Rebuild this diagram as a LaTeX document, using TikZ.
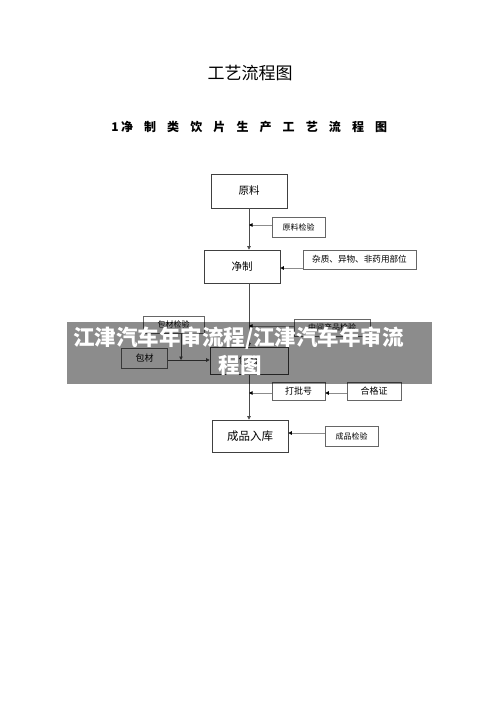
\documentclass[tikz,border=0pt]{standalone}
\usepackage{fontspec}
\newfontfamily\cjk{Noto Sans CJK SC}
\usetikzlibrary{arrows.meta}
\begin{document}
\begin{tikzpicture}[x=1pt,y=-1pt,
  mainbox/.style={draw=black!75,line width=0.7pt,inner sep=0pt,font=\cjk\fontsize{10.5}{12}\selectfont},
  sidebox/.style={draw=black!60,line width=0.6pt,inner sep=0pt,font=\cjk\fontsize{8}{10}\selectfont},
  conn/.style={draw=black!70,line width=0.6pt,-{Triangle[length=3.5pt,width=3.5pt]}},
  feed/.style={draw=black!45,line width=0.8pt,-{Triangle[length=3.5pt,width=3.5pt,black]}}]
\useasboundingbox (0,0) rectangle (500,706);
\fill[white] (0,0) rectangle (500,706);
% titles
\node[font=\cjk\fontsize{17}{20}\selectfont] (title) at (250,73) {工艺流程图};
\node[font=\cjk\bfseries\fontsize{12}{14}\selectfont] (one) at (115,127) {1};
\foreach \c [count=\i from 0] in {净,制,类,饮,片,生,产,工,艺,流,程,图}
  \node[font=\cjk\bfseries\fontsize{12}{14}\selectfont] (s\i) at (127+23.1*\i,127) {\c};
% main boxes
\node[mainbox,minimum width=76pt,minimum height=34pt] (yl) at (249,191) {原料};
\node[mainbox,minimum width=76pt,minimum height=33pt] (jz) at (242,266.5) {净制};
\node[mainbox,minimum width=78pt,minimum height=27pt] (bz) at (249,360.5) {包装};
\node[mainbox,minimum width=76pt,minimum height=32pt,font=\cjk\fontsize{11.5}{13}\selectfont] (cp) at (250,436) {成品入库};
% side boxes
\node[sidebox,minimum width=53pt,minimum height=20pt] (ylj) at (298.5,227) {原料检验};
\node[sidebox,minimum width=113pt,minimum height=19pt,font=\cjk\fontsize{8.6}{10}\selectfont] (zz) at (359.5,259.5) {杂质、异物、非药用部位};
\node[sidebox,minimum width=61pt,minimum height=17pt] (bcj) at (173.5,324.5) {包材检验};
\node[sidebox,minimum width=76pt,minimum height=17pt] (zj) at (332,327.5) {中间产品检验};
\node[sidebox,minimum width=46pt,minimum height=20pt,font=\cjk\fontsize{9}{10}\selectfont] (bc) at (144.5,358) {包材};
\node[sidebox,minimum width=53pt,minimum height=18pt,font=\cjk\fontsize{9}{10}\selectfont] (dp) at (298.5,391) {打批号};
\node[sidebox,minimum width=54pt,minimum height=18pt,font=\cjk\fontsize{9}{10}\selectfont] (hg) at (374,391) {合格证};
\node[sidebox,minimum width=53pt,minimum height=20pt] (cj) at (351.5,436) {成品检验};
% main line
\coordinate (m1) at (249,225);
\coordinate (m2) at (249,326);
\coordinate (m3) at (249,393);
\coordinate (bj) at (181,360);
\draw[conn] (yl.south -| m1) -- (jz.north -| m1);
\draw[conn] (jz.south -| m1) -- (bz.north -| m1);
\draw[conn] (bz.south -| m1) -- (cp.north -| m1);
% feeds
\draw[feed] (ylj.west |- m1) -- (m1);
\draw[feed] (zz.west |- 0,268) -- (jz.east |- 0,268);
\draw[feed] (zj.west |- m2) -- (m2);
\draw[feed] (dp.west |- m3) -- (m3);
\draw[feed] (hg.west |- m3) -- (dp.east |- m3);
\draw[feed] (cj.west |- 0,433) -- (cp.east |- 0,433);
\draw[conn] (bc.east |- bj) -- (bz.west |- bj);
\draw[conn] (bcj.south -| bj) -- (bj);
% watermark banner
\fill[black,opacity=0.45] (67,322) rectangle (432,384);
\node[white,font=\cjk\bfseries\fontsize{21.5}{24}\selectfont] (wm1) at (238.5,338) {江津汽车年审流程/江津汽车年审流};
\node[white,font=\cjk\bfseries\fontsize{21.5}{24}\selectfont] (wm2) at (240,365) {程图};
\end{tikzpicture}
\end{document}
